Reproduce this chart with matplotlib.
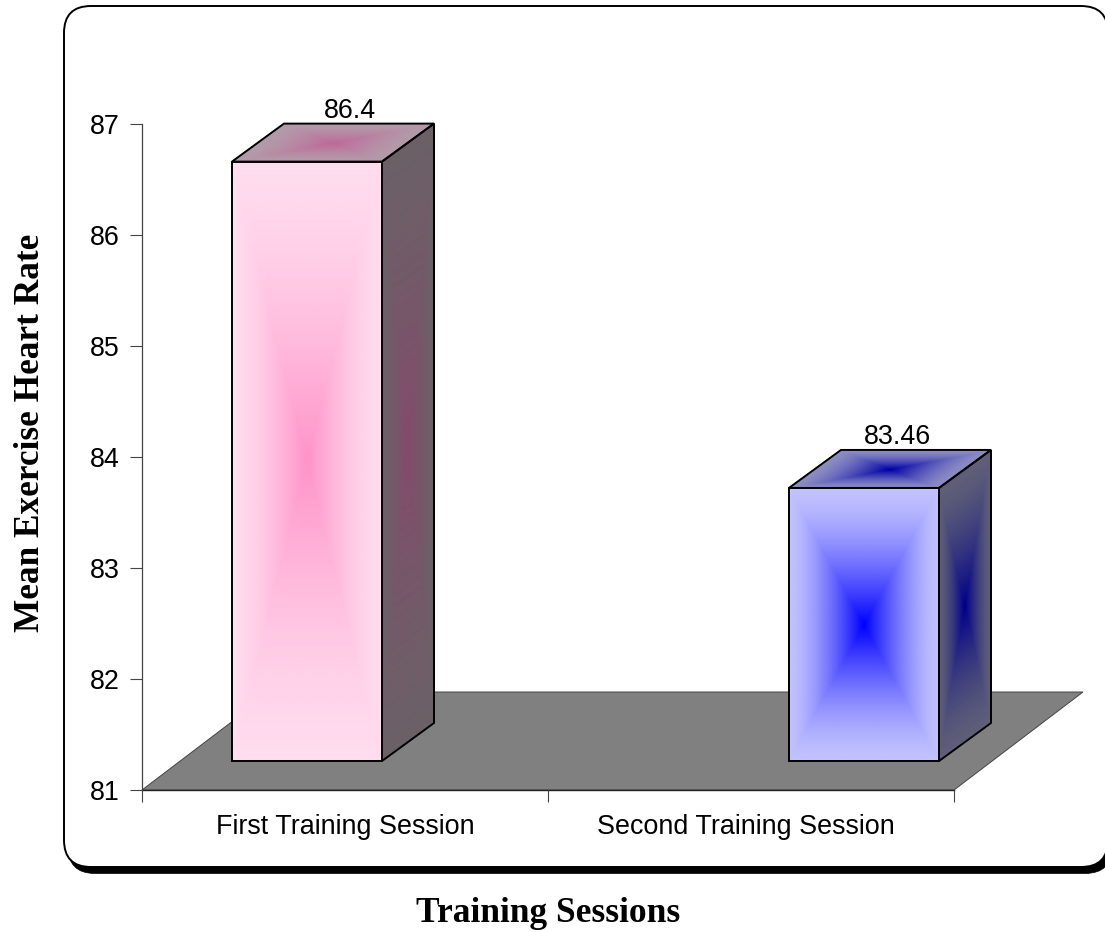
import numpy as np
import matplotlib
matplotlib.use('Agg')
import matplotlib.pyplot as plt
from matplotlib.colors import LinearSegmentedColormap
from matplotlib.patches import FancyBboxPatch, Polygon

categories = ['First Training Session', 'Second Training Session']
values = [86.4, 83.46]
value_labels = ['86.4', '83.46']
y_ticks = [81, 82, 83, 84, 85, 86, 87]

W, H = 1105, 932
plt.rcParams['font.family'] = ['Liberation Sans', 'DejaVu Sans']

# axes box in pixels
left, right, top, bottom = 142, 954, 124, 790
ux = (right - left) / 2.0
uy = (bottom - top) / 6.0

# 3d look, all in data units
floor_dx, floor_dy = 129 / ux, 98 / uy
bar_dx, bar_dy = 52 / ux, 38 / uy
bar_w = 150 / ux
bar_base = 81 + 29 / uy
bar_x = [(232 - left) / ux, (789 - left) / ux]
label_dx = [43 / ux, 33 / ux]

pink = {'front': ('#ffdcee', '#ff93c8'), 'side': ('#6c6067', '#854a6c'), 'top': ('#b39ba9', '#c0689a')}
blue = {'front': ('#c2c2ff', '#0000ff'), 'side': ('#5f5f78', '#00008a'), 'top': ('#8e8ec4', '#0000a8')}
styles = [pink, blue]

fig = plt.figure(figsize=(W / 100, H / 100), dpi=100, facecolor='white')

# rounded panel behind everything
bg = fig.add_axes([0, 0, 1, 1])
bg.set_xlim(0, W)
bg.set_ylim(H, 0)
bg.axis('off')
box = 'round,pad=0,rounding_size=27'
bg.add_patch(FancyBboxPatch((68, 12), 1044, 861.5, boxstyle=box, fc='black', ec='black', lw=0.5))
bg.add_patch(FancyBboxPatch((64, 6), 1044, 861, boxstyle=box, fc='white', ec='black', lw=1.4))
bg.text(548, 913, 'Training Sessions', family='Liberation Serif', weight='bold', fontsize=25.5,
        ha='center', va='center')
bg.text(31, 433, 'Mean Exercise Heart Rate', family='Liberation Serif', weight='bold', fontsize=25.4,
        rotation=90, ha='center', va='center')

ax = fig.add_axes([left / W, 1 - bottom / H, (right - left) / W, (bottom - top) / H])
ax.patch.set_alpha(0)
ax.set_xlim(0, 2)
ax.set_ylim(81, 87)
for s in ['top', 'right']:
    ax.spines[s].set_visible(False)
ax.spines['left'].set_color('#444444')
ax.spines['left'].set_linewidth(0.9)
ax.spines['bottom'].set_visible(False)

ax.set_yticks(y_ticks)
ax.set_xticks([0, 1, 2])
ax.set_xticklabels([])
ax.set_xticks([0.5, 1.488], minor=True)
ax.set_xticklabels(categories, minor=True)
ax.tick_params(axis='both', which='major', length=8.6, width=0.8, color='#444444', labelsize=19.4, pad=7.4)
ax.tick_params(axis='x', which='minor', length=0, labelsize=19.4, pad=17)

floor = [(0, 81), (2, 81), (2 + floor_dx, 81 + floor_dy), (floor_dx, 81 + floor_dy)]
ax.add_patch(Polygon(floor, closed=True, fc='#808080', ec='#444444', lw=0.7, clip_on=False, zorder=1))
ax.plot([0, 2], [81, 81], color='#222222', lw=1.0, clip_on=False, zorder=1.5)


def face(p0, p1, p3, colors, zorder):
    # p0 corner, p1 along u, p3 along v, pyramid gradient from the edges to the middle
    u, v = np.meshgrid(np.linspace(0, 1, 121), np.linspace(0, 1, 121))
    X = p0[0] + u * (p1[0] - p0[0]) + v * (p3[0] - p0[0])
    Y = p0[1] + u * (p1[1] - p0[1]) + v * (p3[1] - p0[1])
    C = (1 - np.maximum(np.abs(2 * u - 1), np.abs(2 * v - 1))) ** 1.5
    cmap = LinearSegmentedColormap.from_list('f', list(colors))
    ax.pcolormesh(X, Y, C, cmap=cmap, shading='gouraud', vmin=0, vmax=1, clip_on=False, zorder=zorder)
    p2 = (p1[0] + p3[0] - p0[0], p1[1] + p3[1] - p0[1])
    ax.add_patch(Polygon([p0, p1, p2, p3], closed=True, fc='none', ec='black', lw=1.4,
                         clip_on=False, zorder=zorder + 0.5))


for x, val, st, txt, ldx in zip(bar_x, values, styles, value_labels, label_dx):
    y0 = bar_base
    y1 = bar_base + (val - 81)
    face((x, y0), (x + bar_w, y0), (x, y1), st['front'], 3)
    face((x + bar_w, y0), (x + bar_w + bar_dx, y0 + bar_dy), (x + bar_w, y1), st['side'], 2)
    face((x, y1), (x + bar_w, y1), (x + bar_dx, y1 + bar_dy), st['top'], 2)
    ax.annotate(txt, (x + bar_w / 2 + ldx, y1 + bar_dy), xytext=(0, 0), textcoords='offset points',
                ha='center', va='bottom', fontsize=19.4, annotation_clip=False, zorder=5)

fig.savefig('out.png', dpi=100)
